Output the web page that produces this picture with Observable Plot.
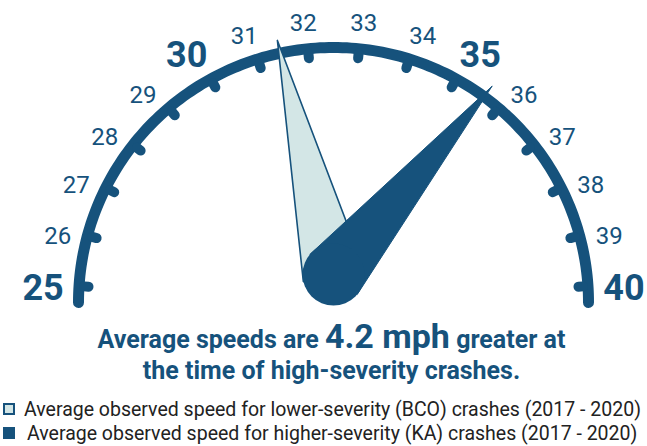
<!DOCTYPE html>
<html><head><meta charset="utf-8">
<script src="https://cdn.jsdelivr.net/npm/d3@7"></script>
<script src="https://cdn.jsdelivr.net/npm/@observablehq/plot@0.6"></script>
<style>
body{margin:0;background:#fff;font-family:Roboto,"Noto Sans",sans-serif;}
#wrap{position:relative;width:647px;height:446px;overflow:hidden}
#chart{position:absolute;left:0;top:0}
#chart svg{overflow:visible}
.title{position:absolute;left:8px;top:324px;width:647px;text-align:center;font-weight:700;font-size:25px;line-height:31px;color:#16527c}
.title .big{font-size:34px;line-height:0}
.legend{position:absolute;left:0;top:400px;font-size:19.5px;line-height:19px;color:#222}
.row{position:relative;height:24px;white-space:nowrap}
.sw{position:absolute;left:3px;top:3px;width:12px;height:12px;box-sizing:border-box}
</style></head><body>
<div id="wrap"><div id="chart"></div>
<div class="title" id="title"></div>
<div class="legend" id="legend"></div></div>
<script>
// ---- data ----
const speedTicks = [25,26,27,28,29,30,31,32,33,34,35,36,37,38,39,40];
const tickLabels = ["25","26","27","28","29","30","31","32","33","34","35","36","37","38","39","40"];
const majorTicks = [25,30,35,40];
const seriesNames = ["lower-severity (BCO)", "higher-severity (KA)"];
const avgSpeeds = [31.45, 35.65];
const legendLabels = [
  "Average observed speed for lower-severity (BCO) crashes (2017 - 2020)",
  "Average observed speed for higher-severity (KA) crashes (2017 - 2020)"
];
const titleParts = ["Average speeds are ", "4.2 mph", " greater at", "the time of high-severity crashes."];

// ---- styling ----
const DARK = "#16527c", LIGHT = "#d3e6e6";
const W = 647, H = 315;
const R_ARC = 255, R_TICK_OUT = 250, R_TICK_IN = 245.5, R_TIP = 268;
const R_LAB = 284.5, R_LAB_BIG = 291, LAB_CY = -4, SQUASH = 0.94;
const PIVOT = [0, 28], HUB = 31;

const ang = d3.scaleLinear().domain([25, 40]).range([176.3, 3.7]);
const rad = d => d * Math.PI / 180;
const pol = (r, deg) => [r * Math.cos(rad(deg)), r * Math.sin(rad(deg))];

// arc
const arcPts = d3.range(180, -0.01, -1).map(a => { const [x, y] = pol(R_ARC, a); return {x, y}; });
// ticks
const ticks = speedTicks.map(v => {
  const [x1, y1] = pol(R_TICK_OUT, ang(v)); const [x2, y2] = pol(R_TICK_IN, ang(v));
  return {x1, y1, x2, y2};
});
// labels
const labels = speedTicks.map((v, i) => {
  const t = rad(ang(v));
  let dx = Math.cos(t), dy = SQUASH * Math.sin(t);
  const n = Math.hypot(dx, dy); dx /= n; dy /= n;
  const big = majorTicks.includes(v);
  const R = big ? R_LAB_BIG : R_LAB;
  return {x: R * dx, y: LAB_CY + R * dy, text: tickLabels[i], big};
});
// needles
function needle(v) {
  const [tx, ty] = pol(R_TIP, ang(v));
  const ux = tx - PIVOT[0], uy = ty - PIVOT[1];
  const L = Math.hypot(ux, uy);
  const nx = -uy / L, ny = ux / L;
  return [
    {x: tx, y: ty},
    {x: PIVOT[0] + HUB * nx, y: PIVOT[1] + HUB * ny},
    {x: PIVOT[0] - HUB * nx, y: PIVOT[1] - HUB * ny},
    {x: tx, y: ty}
  ];
}
const lightNeedle = needle(avgSpeeds[0]);
const darkNeedle = needle(avgSpeeds[1]);

const plot = Plot.plot({
  width: W, height: H, margin: 0,
  x: {domain: [-333, W - 333], axis: null},
  y: {domain: [302 - H, 302], axis: null},
  style: {background: "transparent", overflow: "visible"},
  marks: [
    Plot.line(arcPts, {x: "x", y: "y", stroke: DARK, strokeWidth: 11, strokeLinecap: "round"}),
    Plot.link(ticks, {x1: "x1", y1: "y1", x2: "x2", y2: "y2", stroke: DARK, strokeWidth: 10, strokeLinecap: "round"}),
    Plot.text(labels.filter(d => !d.big), {x: "x", y: "y", text: "text", fill: DARK, fontSize: 24, fontFamily: "Roboto", textAnchor: "middle", lineAnchor: "middle"}),
    Plot.text(labels.filter(d => d.big), {x: "x", y: "y", text: "text", fill: DARK, fontSize: 36, fontWeight: 700, fontFamily: "Roboto", textAnchor: "middle", lineAnchor: "middle"}),
    Plot.line(lightNeedle, {x: "x", y: "y", fill: LIGHT, stroke: DARK, strokeWidth: 1.6, strokeLinejoin: "miter"}),
    Plot.line(darkNeedle, {x: "x", y: "y", fill: DARK, stroke: DARK, strokeWidth: 1, strokeLinejoin: "miter"}),
    Plot.dot([{x: PIVOT[0], y: PIVOT[1]}], {x: "x", y: "y", r: HUB, fill: DARK, stroke: "none"})
  ]
});
document.getElementById("chart").appendChild(plot);

// title
const title = document.getElementById("title");
title.innerHTML = "";
title.append(titleParts[0]);
const big = document.createElement("span"); big.className = "big"; big.textContent = titleParts[1];
title.append(big, titleParts[2], document.createElement("br"), titleParts[3]);

// legend
const legend = document.getElementById("legend");
legendLabels.forEach((lab, i) => {
  const row = document.createElement("div"); row.className = "row";
  const sw = document.createElement("div"); sw.className = "sw";
  if (i === 0) { sw.style.background = LIGHT; sw.style.border = "2px solid " + DARK; }
  else { sw.style.background = DARK; }
  const tx = document.createElement("span"); tx.textContent = lab;
  tx.style.position = "absolute"; tx.style.left = (i === 0 ? 24 : 27) + "px"; tx.style.top = "0";
  row.append(sw, tx); legend.append(row);
});
</script>
</body></html>
